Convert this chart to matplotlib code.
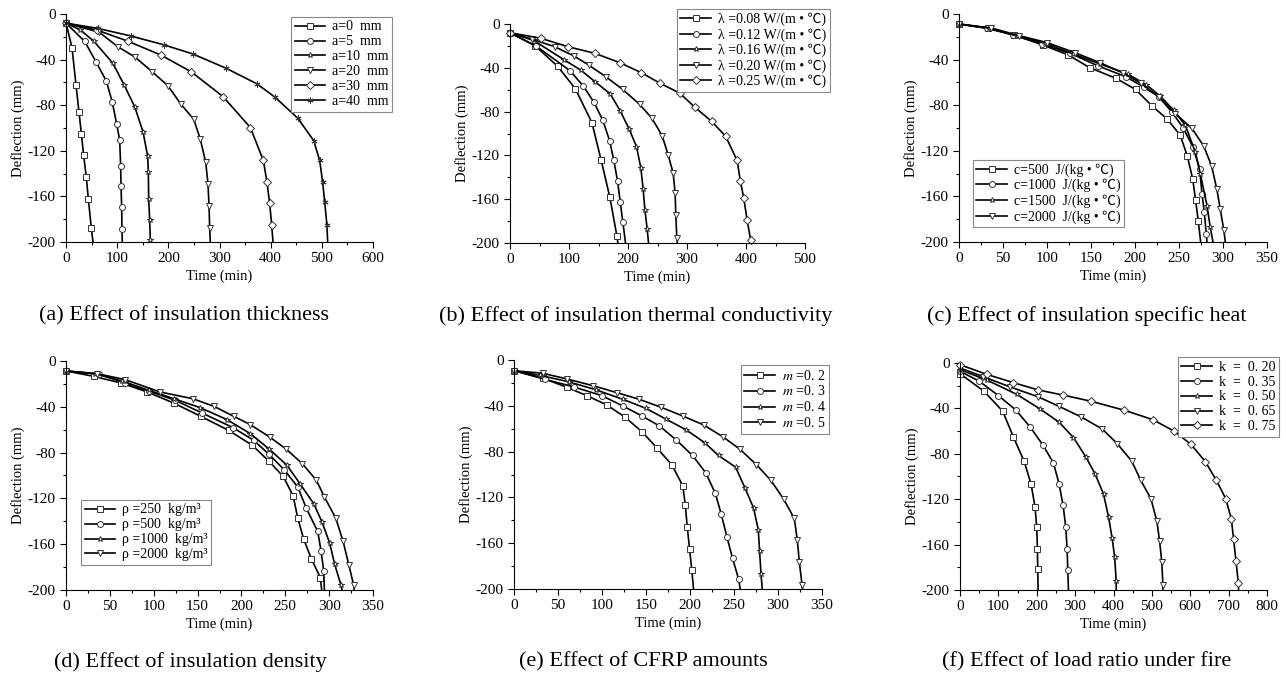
import matplotlib
matplotlib.use("Agg")
import matplotlib.pyplot as plt
from matplotlib.ticker import MultipleLocator

plt.rcParams["font.family"] = ["Liberation Serif", "Noto Sans CJK SC", "DejaVu Sans"]
plt.rcParams["axes.unicode_minus"] = False
plt.rcParams["mathtext.fontset"] = "stix"

# ---------- (a) insulation thickness ----------
a_labels = ["a=0  mm", "a=5  mm", "a=10  mm", "a=20  mm", "a=30  mm", "a=40  mm"]
a_t0 = [0, 11.7, 19.5, 25.4, 30, 34.5, 39.7, 43.6, 49.5, 52.8]
a_d0 = [-8, -29.5, -62, -86, -105, -124, -143, -162, -188, -200]
a_t5 = [0, 36.5, 58.6, 78.8, 90.5, 99, 104.9, 106.8, 107.5, 108.8, 109.4, 110]
a_d5 = [-8, -24, -42, -58.7, -77.4, -96.4, -110.7, -133, -150.7, -169.3, -188.6, -200]
a_t10 = [0, 28, 54.7, 91.2, 114, 134.8, 150.5, 159.6, 160.9, 161.6, 163.5, 164.8, 165]
a_d10 = [-8, -14, -24, -43, -62.5, -82, -103.4, -124.7, -139, -162, -180.7, -198.5, -200]
a_t20 = [0, 65, 101, 135.5, 168, 199.3, 224, 249.5, 262.5, 273, 277.5, 279.5, 280.8, 282]
a_d20 = [-8, -16, -28.6, -38, -50.5, -63, -78.8, -92.3, -109.8, -130, -149, -168, -187.7, -200]
a_t30 = [0, 60, 121.8, 185.5, 245, 306.8, 360.3, 385.7, 392.8, 398, 402, 404.6]
a_d30 = [-8, -14, -24, -36, -50.8, -72.4, -99.6, -128.5, -147.7, -165.8, -185.4, -200]
a_t40 = [0, 62, 127, 190.9, 247.6, 313, 373.3, 408.5, 453, 484, 495.8, 501.6, 505.6, 510, 511.4]
a_d40 = [-8, -12.6, -19.3, -27, -35, -47.6, -61.3, -73, -91.4, -111, -128.5, -147.4, -165, -185.4, -200]

# ---------- (b) thermal conductivity ----------
b_labels = ["λ =0.08 W/(m • ℃)", "λ =0.12 W/(m • ℃)", "λ =0.16 W/(m • ℃)",
            "λ =0.20 W/(m • ℃)", "λ =0.25 W/(m • ℃)"]
b_t08 = [0, 42.9, 80.7, 110.6, 138.8, 154.6, 169.3, 181.2, 182.8]
b_d08 = [-8, -20, -38.6, -59, -90, -124.6, -158.4, -193.6, -200]
b_t12 = [0, 44, 101.6, 124, 142.2, 157.4, 168.7, 176, 182.3, 186.8, 191.3, 195.8]
b_d12 = [-8, -20, -42.6, -56.5, -71.4, -88, -106.4, -124.6, -143.5, -162.3, -181, -200]
b_t16 = [0, 40, 92, 119.6, 143.9, 169.9, 186.8, 202, 214.4, 221.8, 225.7, 228.6, 232.5, 234.8]
b_d16 = [-8, -15, -32.8, -42, -52.6, -63.8, -79.3, -96, -111.9, -131.6, -150.8, -169.6, -187.2, -200]
b_t20 = [0, 38, 75.6, 108.4, 133.2, 162, 190.7, 219.5, 240.4, 257.9, 268, 276.5, 279.9, 281, 282.7, 283.5]
b_d20 = [-8, -14, -20.7, -29.2, -37.4, -48, -59.6, -73.3, -86, -102, -119.5, -136, -154.4, -174, -195, -200]
b_t25 = [0, 52, 98, 143.3, 186.2, 222.3, 254, 287.8, 313.2, 342, 365.7, 384.9, 390.6, 396.2, 401.8, 408, 409]
b_d25 = [-8, -13, -20.7, -26.7, -35.3, -44.4, -54, -63.2, -76, -89, -102.7, -124.6, -143.8, -159, -178.7, -197.6, -200]

# ---------- (c) specific heat ----------
c_labels = ["c=500  J/(kg • ℃)", "c=1000  J/(kg • ℃)", "c=1500  J/(kg • ℃)", "c=2000  J/(kg • ℃)"]
c_t500 = [0, 33.4, 62.6, 95.2, 124.4, 148.3, 178.6, 200.6, 219.6, 236.6, 251.4, 259.4, 265.5, 268.9, 271.9, 274.6]
c_d500 = [-8.8, -12.6, -18.4, -27.2, -36, -47, -56.5, -66.2, -80.8, -92.2, -106.3, -124.5, -144.4, -163.4, -181.6, -200]
c_t1000 = [0, 32.2, 61.8, 94, 126.7, 158.5, 189.6, 210.5, 227.1, 242.3, 254.5, 265.8, 273.4, 276.1, 278.7, 281, 281.8]
c_d1000 = [-8.8, -12.6, -18.4, -26.4, -34.6, -45.7, -55, -64.4, -72.6, -86.4, -99.6, -116.5, -135.6, -157.5, -173.6, -192.7, -200]
c_t1500 = [0, 34.5, 65.6, 98.2, 130, 160.4, 191.9, 212.7, 228.7, 243.8, 257.1, 268.5, 274.2, 281.8, 285.5, 288.6]
c_d1500 = [-8.8, -12.3, -19.3, -25.8, -35.1, -43.9, -52.7, -62, -72, -84.3, -97.5, -121, -140, -168, -187, -200]
c_t2000 = [0, 36.8, 68.6, 100.5, 132, 160.4, 185.8, 207, 227.1, 245.7, 264.7, 278, 287, 293, 296.9, 301, 302.6]
c_d2000 = [-8.8, -12.3, -19, -25.2, -34, -42.8, -51.5, -60.9, -72.6, -87.3, -100.4, -115.7, -133.2, -153.7, -171.3, -189.8, -200]

# ---------- (d) density ----------
d_labels = ["ρ =250  kg/m³", "ρ =500  kg/m³", "ρ =1000  kg/m³", "ρ =2000  kg/m³"]
d_t250 = [0, 31.5, 62.7, 92.4, 122.8, 153.6, 185.5, 212.5, 231.1, 247.5, 258.9, 264.2, 271, 279.8, 290, 291.5]
d_d250 = [-8.7, -13.4, -19.2, -27, -36.7, -48.3, -60.6, -73.7, -87.3, -100.7, -117.6, -137.1, -155.7, -172.9, -189.2, -200]
d_t500 = [0, 37.2, 67.6, 94.3, 124.7, 155.1, 190.4, 214, 231.5, 248.6, 264.2, 274, 287, 290.8, 293.8, 294.6]
d_d500 = [-8.7, -11.6, -19.2, -26.2, -34.4, -45.4, -58.2, -69.3, -81.5, -94.9, -110, -128.7, -148.8, -166, -183.4, -200]
d_t1000 = [0, 33.4, 63.9, 94.3, 122.8, 153.2, 183.6, 210.2, 231.9, 252, 267.2, 282.4, 291.9, 300.6, 306.3, 313.6, 314.7]
d_d1000 = [-8.7, -11, -17.5, -25.6, -32.9, -40.8, -51.2, -63.5, -77.1, -91.1, -107.7, -124.6, -140.6, -159, -177.6, -195.9, -200]
d_t2000 = [0, 35, 67.7, 106.8, 144.4, 168.7, 191.2, 210.2, 232.2, 250.9, 269.5, 285.5, 294.6, 307.5, 315.9, 322.4, 328, 328.6]
d_d2000 = [-8.7, -11, -16.3, -27, -32.9, -39.6, -48.3, -55.6, -66.4, -76.9, -89.7, -104.2, -118.8, -137.1, -157.5, -177.9, -195.9, -200]

# ---------- (e) CFRP amounts ----------
e_labels = ["$m$ =0. 2", "$m$ =0. 3", "$m$ =0. 4", "$m$ =0. 5"]
e_t2 = [0, 33.4, 59.9, 82.7, 105.4, 126.3, 145.6, 162.3, 179.4, 191.9, 194.6, 196.9, 199.5, 202.1, 204]
e_d2 = [-9.3, -16, -23.8, -31.1, -39.2, -50, -62.8, -76.7, -91.6, -109.9, -126.5, -145.9, -165.1, -183.7, -200]
e_t3 = [0, 35.3, 68, 99.7, 123.6, 145.2, 165.3, 184.3, 202.9, 217.7, 228.7, 235.5, 242, 248.4, 255.2, 257.1]
e_d3 = [-9.3, -16.9, -23.5, -31.1, -40.1, -48.8, -57.6, -69.8, -83.4, -98.3, -116.3, -134.6, -154.7, -173.3, -191.3, -200]
e_t4 = [0, 30, 62, 93, 123.6, 149.8, 172.9, 195.6, 216.5, 232.4, 251.8, 262.4, 272.3, 277.6, 279.1, 280.7, 282.1]
e_d4 = [-9.3, -13.5, -19, -26, -34.3, -42.2, -51.7, -61, -72.1, -83.4, -93.6, -111.6, -129.4, -148.3, -167.2, -186.9, -200]
e_t5 = [0, 32.6, 60, 89.5, 116.8, 142.2, 167.2, 191.5, 215.4, 237, 256.7, 275.3, 292, 306.4, 318.5, 322, 324.2, 327.3, 327.8]
e_d5 = [-9.3, -11.6, -16.5, -22.4, -28.5, -34.3, -41.3, -48.8, -56.7, -66.9, -77.9, -91.3, -105.2, -121.5, -138.4, -157.6, -176.2, -196.2, -200]

# ---------- (f) load ratio ----------
f_labels = ["k  =  0. 20", "k  =  0. 35", "k  =  0. 50", "k  =  0. 65", "k  =  0. 75"]
f_t20 = [0, 62.6, 111.3, 139.1, 167, 185.2, 195.7, 200, 201.7, 202.6, 203.5]
f_d20 = [-9.4, -24.9, -42.5, -65.1, -86.5, -106.7, -127.3, -144.9, -163.9, -181.2, -200]
f_t35 = [0, 50, 100, 146, 182.6, 215.7, 243.5, 258.3, 268.7, 275.7, 279.1, 280.9, 282.6]
f_d35 = [-7.3, -16, -28.7, -41.6, -56.3, -72.1, -88, -106.7, -125.5, -144.9, -163.9, -182.4, -200]
f_t50 = [0, 70, 147.8, 208.7, 258.3, 295.7, 327.8, 352.2, 374, 387, 396.5, 403, 406.9, 407]
f_d50 = [-5.9, -15, -27.6, -40.5, -52.2, -65.7, -82.7, -97.9, -115.5, -135.5, -154.5, -171, -191.8, -200]
f_t65 = [0, 60, 130, 204.3, 257.4, 315.7, 370.4, 409.6, 447, 471.3, 497.4, 513, 520, 526, 528.7, 529]
f_d65 = [-4.4, -12, -21, -29.9, -38.1, -47.5, -58.1, -71, -86.2, -103.5, -119.6, -139.3, -156.6, -175.7, -195.6, -200]
f_t75 = [0, 69.6, 139, 204.3, 267.8, 341.7, 427.8, 502.6, 556.5, 601.7, 639.1, 667.8, 692.2, 707, 713, 719.1, 725.2, 726]
f_d75 = [-1.5, -10, -17.3, -23.8, -28.2, -33.7, -41.6, -49.9, -59.8, -71.6, -86.8, -103.2, -119.4, -137.2, -155.4, -174.2, -193.5, -200]

captions = ["(a) Effect of insulation thickness", "(b) Effect of insulation thermal conductivity",
            "(c) Effect of insulation specific heat", "(d) Effect of insulation density",
            "(e) Effect of CFRP amounts", "(f) Effect of load ratio under fire"]

STAR = "*"
ASTER = (6, 2, 0)


def draw_panel(ax, series, labels, markers, xmax, xmajor, legend_at):
    for (t, d), lab, mk in zip(series, labels, markers):
        ax.plot(t, d, color="black", lw=1.2, marker=mk, ms=4.3, mfc="white",
                mec="#333333", mew=0.7, markevery=slice(0, -1), label=lab, clip_on=False)
    ax.set_xlim(0, xmax)
    ax.set_ylim(-200, 0)
    ax.xaxis.set_major_locator(MultipleLocator(xmajor))
    ax.xaxis.set_minor_locator(MultipleLocator(xmajor / 2))
    ax.yaxis.set_major_locator(MultipleLocator(40))
    ax.yaxis.set_minor_locator(MultipleLocator(20))
    ax.spines["top"].set_visible(False)
    ax.spines["right"].set_visible(False)
    ax.tick_params(which="both", direction="out", labelsize=11, width=0.8)
    ax.tick_params(which="major", length=4)
    ax.tick_params(which="minor", length=2.5)
    ax.set_xlabel("Time (min)", fontsize=10.5, labelpad=3)
    ax.set_ylabel("Deflection (mm)", fontsize=10.5, labelpad=2)
    leg = ax.legend(loc="upper left", bbox_to_anchor=legend_at, borderaxespad=0,
                    fontsize=10, handlelength=2.2, labelspacing=0.14, handletextpad=0.5,
                    borderpad=0.25, fancybox=False, framealpha=1)
    leg.get_frame().set_edgecolor("#888888")
    leg.get_frame().set_linewidth(0.8)


fig = plt.figure(figsize=(12.86, 6.78), dpi=100)
W, H = 1286, 678


def add_axes(x0, x1, y0, y1):
    return fig.add_axes([x0 / W, 1 - y1 / H, (x1 - x0) / W, (y1 - y0) / H])


ax = add_axes(66, 373, 14, 242)
draw_panel(ax, [(a_t0, a_d0), (a_t5, a_d5), (a_t10, a_d10), (a_t20, a_d20), (a_t30, a_d30), (a_t40, a_d40)],
           a_labels, ["s", "o", STAR, "v", "D", ASTER], 600, 100, (0.733, 0.987))

ax = add_axes(510, 805, 24, 243)
draw_panel(ax, [(b_t08, b_d08), (b_t12, b_d12), (b_t16, b_d16), (b_t20, b_d20), (b_t25, b_d25)],
           b_labels, ["s", "o", STAR, "v", "D"], 500, 100, (0.566, 1.068))

ax = add_axes(959, 1267, 14, 242)
draw_panel(ax, [(c_t500, c_d500), (c_t1000, c_d1000), (c_t1500, c_d1500), (c_t2000, c_d2000)],
           c_labels, ["s", "o", STAR, "v"], 350, 50, (0.045, 0.36))

ax = add_axes(66, 373, 361, 590)
draw_panel(ax, [(d_t250, d_d250), (d_t500, d_d500), (d_t1000, d_d1000), (d_t2000, d_d2000)],
           d_labels, ["s", "o", STAR, "v"], 350, 50, (0.049, 0.393))

ax = add_axes(514, 822, 360, 589)
draw_panel(ax, [(e_t2, e_d2), (e_t3, e_d3), (e_t4, e_d4), (e_t5, e_d5)],
           e_labels, ["s", "o", STAR, "v"], 350, 50, (0.737, 0.978))

ax = add_axes(960, 1267, 363, 590)
draw_panel(ax, [(f_t20, f_d20), (f_t35, f_d35), (f_t50, f_d50), (f_t65, f_d65), (f_t75, f_d75)],
           f_labels, ["s", "o", STAR, "v", "D"], 800, 100, (0.71, 1.026))

cap_pos = [(184, 316), (636, 316), (1087, 316), (190, 662), (643, 662), (1087, 662)]
for txt, (cx, cy) in zip(captions, cap_pos):
    fig.text(cx / W, 1 - cy / H, txt, ha="center", va="center", fontsize=16,
             family=["Liberation Serif", "DejaVu Serif"])

fig.savefig("out.png", dpi=100)
